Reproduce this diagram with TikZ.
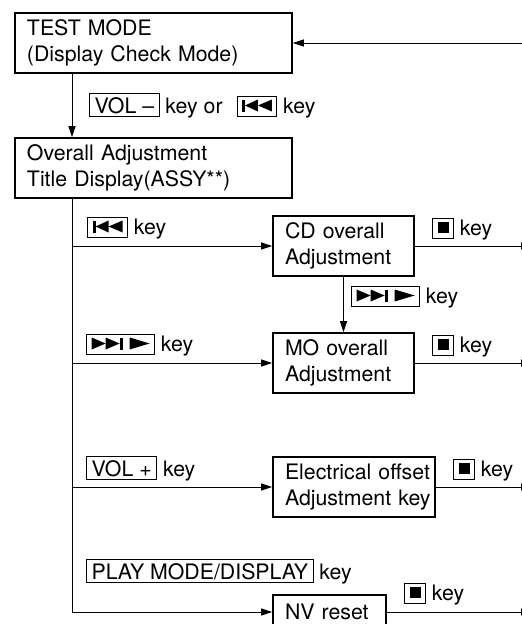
\documentclass[tikz,border=0pt]{standalone}
\usepackage{fontspec}
\setmainfont{TeX Gyre Heros}
\usetikzlibrary{arrows.meta,calc}
\hyphenpenalty=10000
\exhyphenpenalty=10000

% key caps drawn as small pictures
\newcommand{\keybox}[1]{{\fboxsep=3pt\fboxrule=0.9pt\fbox{\hspace{1.5pt}#1\hspace{1.5pt}}}}
\newcommand{\prevsym}{\tikz[x=1pt,y=1pt,baseline=-1.5pt]{\fill (0,0) rectangle (3,12); \fill (3,6)--(16,12)--(16,0)--cycle; \fill (16,6)--(30,12)--(30,0)--cycle;}}
\newcommand{\nextsym}{\tikz[x=1pt,y=1pt,baseline=-1.5pt]{\fill (0,0)--(0,12)--(14,6)--cycle; \fill (14,0)--(14,12)--(28,6)--cycle; \fill (28,0) rectangle (31,12); \fill (38,0)--(38,12)--(58,6)--cycle;}}
\newcommand{\stopsym}{\tikz[x=1pt,y=1pt,baseline=-1.5pt]{\fill (0,0.5) rectangle (11,11.5);}}

\begin{document}
\begin{tikzpicture}[x=1pt,y=-1pt,font=\fontsize{21.3}{26}\selectfont,
  box/.style={draw,line width=1.6pt,rectangle,inner xsep=12pt,inner ysep=0pt,minimum height=60pt,align=left},
  lbl/.style={anchor=base west,inner sep=0pt},
  flow/.style={line width=0.9pt,-{Triangle[length=11pt,width=7pt]}}]
\useasboundingbox (0,0) rectangle (522,624);

% mode boxes
\node[box,text width=253pt] (test) at (153.5,43) {TEST MODE\\(Display~Check~Mode)};
\node[box,text width=253pt] (overall) at (153.5,168) {Overall~Adjustment\\Title~Display(ASSY**)};
\node[box,text width=117pt] (cd) at (343.5,246) {CD~overall\\Adjustment};
\node[box,text width=117pt] (mo) at (343.5,363) {MO~overall\\Adjustment};
\node[box,text width=138pt] (elec) at (354,487) {Electrical~offset\\Adjustment~key};
\node[box,text width=89pt,minimum height=34pt] (nv) at (329.5,612) {NV~reset};

\coordinate (trunk) at (72,0);
\coordinate (ret) at (522,43);
\coordinate (outx) at (532,0);

% connectors
\draw[flow] (ret) -- (test.east);
\draw[flow] (test.south -| trunk) -- (overall.north -| trunk);
\draw[flow] (overall.south -| trunk) |- (nv.west);
\foreach \n in {cd,mo,elec} \draw[flow] (trunk |- \n.west) -- (\n.west);
\draw[flow] (cd) -- (mo);
\foreach \n in {cd,mo,elec,nv} \draw[flow] (\n.east) -- (\n.east -| outx);

% key labels
\node[lbl] (kstart) at (89,113) {\keybox{VOL –} key or\hspace{8pt} \keybox{\prevsym} key};
\node[lbl] (kcd) at (87,234) {\keybox{\prevsym} key};
\node[lbl] (kcdmo) at (351,303) {\keybox{\nextsym} key};
\node[lbl] (kmo) at (86,351) {\keybox{\nextsym} key};
\node[lbl] (kvol) at (86,476) {\keybox{VOL +} key};
\node[lbl] (kplay) at (86,579) {\keybox{PLAY MODE/DISPLAY} key};
\node[lbl] (scd) at (432,235) {\keybox{\stopsym} key};
\node[lbl] (smo) at (432,352) {\keybox{\stopsym} key};
\node[lbl] (selec) at (453,476) {\keybox{\stopsym} key};
\node[lbl] (snv) at (404,600) {\keybox{\stopsym} key};
\end{tikzpicture}
\end{document}
